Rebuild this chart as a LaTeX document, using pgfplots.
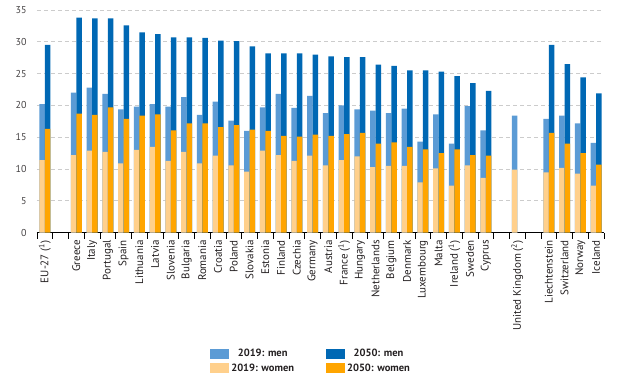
\documentclass[border=0pt]{standalone}
\usepackage{fontspec}
\setmainfont{PT Sans}
\usepackage{pgfplots}
\pgfplotsset{compat=1.18}
\usepackage{pgfplotstable}
\definecolor{men19}{HTML}{5B9BD5}
\definecolor{men50}{HTML}{0068B4}
\definecolor{wom19}{HTML}{FFD08C}
\definecolor{wom50}{HTML}{FFA500}
\definecolor{txt}{HTML}{231F20}

\pgfplotstableread{
x  w19  t19  w50  t50
0  11.4 20.2 16.3 29.5
2  12.2 22.0 18.7 33.8
3  12.9 22.8 18.5 33.7
4  12.7 21.8 19.7 33.7
5  10.9 19.4 17.9 32.6
6  13.0 19.8 18.4 31.5
7  13.5 20.2 18.6 31.2
8  11.3 19.8 16.1 30.7
9  12.7 21.3 17.2 30.7
10 10.9 18.5 17.2 30.6
11 12.1 20.6 16.6 30.2
12 10.6 17.6 16.9 30.1
13 9.6  16.0 16.2 29.3
14 12.9 19.7 16.0 28.2
15 12.2 21.8 15.2 28.2
16 11.3 19.6 15.1 28.2
17 12.1 21.5 15.4 28.0
18 10.6 18.8 15.2 27.7
19 11.4 20.0 15.5 27.6
20 12.0 19.4 15.7 27.6
21 10.3 19.2 14.0 26.4
22 10.5 18.8 14.2 26.2
23 10.5 19.5 13.5 25.5
24 7.9  14.3 13.1 25.5
25 10.1 18.6 12.5 25.3
26 7.4  14.0 13.1 24.6
27 10.6 19.9 12.2 23.5
28 8.6  16.1 12.1 22.3
30 9.9  18.4 nan  nan
32 9.5  17.9 15.7 29.5
33 10.2 18.4 14.0 26.5
34 9.3  17.2 12.5 24.4
35 7.4  14.1 10.7 21.9
}\data

\begin{document}
\begin{tikzpicture}
\useasboundingbox (-37pt,-147.3pt) rectangle (590pt,232.7pt);
\begin{axis}[
  scale only axis, width=567pt, height=222.7pt,
  xmin=-0.5, xmax=35.5, ymin=0, ymax=35,
  ybar, bar width=0.35,
  axis x line*=bottom, axis y line*=left,
  y axis line style={draw=none},
  x axis line style={black, line width=0.9pt},
  ytick={0,5,...,35},
  ymajorgrids,
  grid style={gray!40, line width=0.8pt, dash pattern=on 4pt off 3pt},
  major tick length=0pt,
  xtick={0,2,3,...,28,30,32,33,34,35},
  xticklabels={EU-27 (\textsuperscript{1}),Greece,Italy,Portugal,Spain,Lithuania,Latvia,Slovenia,Bulgaria,Romania,Croatia,Poland,Slovakia,Estonia,Finland,Czechia,Germany,Austria,France (\textsuperscript{1}),Hungary,Netherlands,Belgium,Denmark,Luxembourg,Malta,Ireland (\textsuperscript{1}),Sweden,Cyprus,United Kingdom (\textsuperscript{2}),Liechtenstein,Switzerland,Norway,Iceland},
  x tick label style={rotate=90, anchor=east, yshift=0pt, xshift=-4pt, text=txt, font=\fontsize{11}{12}\selectfont},
  y tick label style={xshift=-7pt, text=txt!85, font=\fontsize{10}{12}\selectfont},
  /pgf/number format/assume math mode=true,
  minor xtick={-0.5,0.5,...,35.5},
  minor x tick style={black, line width=0.9pt},
  xtick align=outside,
  minor tick length=6pt,
  legend columns=2,
  legend image code/.code={\fill[#1] (0pt,-5pt) rectangle (19pt,5pt);},
  legend style={at={(0.300,-0.504)}, anchor=north west, draw=none, fill=none,
    font=\bfseries\fontsize{10.5}{12}\selectfont, text=txt,
    /tikz/every even column/.append style={column sep=30pt},
    row sep=1.5pt},
]
\addlegendimage{fill=men19, draw=none}
\addlegendentry{2019: men}
\addlegendimage{fill=men50, draw=none}
\addlegendentry{2050: men}
\addlegendimage{fill=wom19, draw=none}
\addlegendentry{2019: women}
\addlegendimage{fill=wom50, draw=none}
\addlegendentry{2050: women}

\addplot[fill=men19, draw=none, bar shift=-0.175, forget plot] table[x=x, y=t19]{\data};
\addplot[fill=wom19, draw=none, bar shift=-0.175, forget plot] table[x=x, y=w19]{\data};
\addplot[fill=men50, draw=none, bar shift=0.175, forget plot] table[x=x, y=t50]{\data};
\addplot[fill=wom50, draw=none, bar shift=0.175, forget plot] table[x=x, y=w50]{\data};
\end{axis}
\end{tikzpicture}
\end{document}
